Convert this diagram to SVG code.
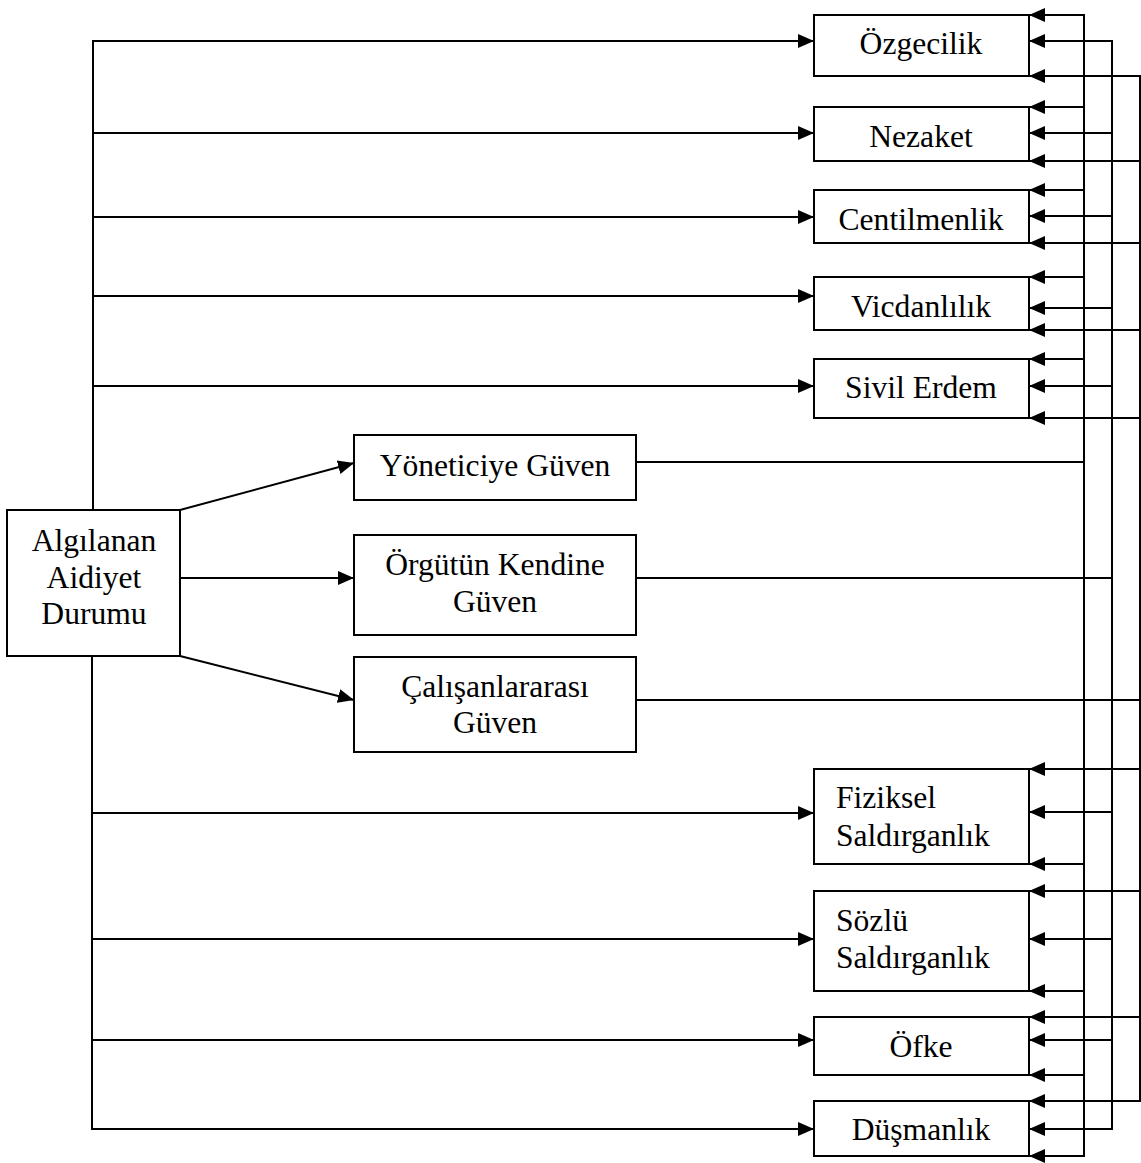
<svg xmlns="http://www.w3.org/2000/svg" width="1141" height="1163" viewBox="0 0 1141 1163">
<style>
.box{fill:#fff;stroke:#000;stroke-width:2}
text{font-family:'Liberation Serif','Times New Roman',Times,serif;font-size:31.6px;fill:#000}
.c{text-anchor:middle}
.ln{stroke:#000;stroke-width:2;fill:none}
.ar{stroke:#000;stroke-width:2;fill:none;marker-end:url(#ah)}
</style>
<defs>
<marker id="ah" markerUnits="userSpaceOnUse" markerWidth="17" markerHeight="16" refX="16" refY="8" orient="auto">
<path d="M0,1 L16,8 L0,15 z" fill="#000"/>
</marker>
</defs>
<rect width="1141" height="1163" fill="#fff"/>
<g id="connectors">
<path class="ln" d="M93,41 V510"/>
<path class="ln" d="M92,656 V1129"/>
<path class="ar" d="M92,41 H814"/>
<path class="ar" d="M92,133 H814"/>
<path class="ar" d="M92,217 H814"/>
<path class="ar" d="M92,296 H814"/>
<path class="ar" d="M92,386 H814"/>
<path class="ar" d="M92,813 H814"/>
<path class="ar" d="M92,939 H814"/>
<path class="ar" d="M92,1040 H814"/>
<path class="ar" d="M91,1129 H814"/>
<path class="ar" d="M180,510 L354,463"/>
<path class="ar" d="M180,578 H354"/>
<path class="ar" d="M180,656 L354,700"/>
<path class="ln" d="M636,462 H1084"/>
<path class="ln" d="M636,578 H1112"/>
<path class="ln" d="M636,700 H1141"/>
<path class="ln" d="M1084,14 V1157"/>
<path class="ln" d="M1112,40 V1130"/>
<path class="ln" d="M1140,75 V1102"/>
<path class="ar" d="M1085,15 H1029"/>
<path class="ar" d="M1113,41 H1029"/>
<path class="ar" d="M1141,76 H1029"/>
<path class="ar" d="M1084,107 H1029"/>
<path class="ar" d="M1112,133 H1029"/>
<path class="ar" d="M1140,161 H1029"/>
<path class="ar" d="M1084,190 H1029"/>
<path class="ar" d="M1112,216 H1029"/>
<path class="ar" d="M1140,243 H1029"/>
<path class="ar" d="M1084,277 H1029"/>
<path class="ar" d="M1112,308 H1029"/>
<path class="ar" d="M1140,330 H1029"/>
<path class="ar" d="M1084,359 H1029"/>
<path class="ar" d="M1112,386 H1029"/>
<path class="ar" d="M1140,418 H1029"/>
<path class="ar" d="M1140,769 H1029"/>
<path class="ar" d="M1112,812 H1029"/>
<path class="ar" d="M1084,864 H1029"/>
<path class="ar" d="M1140,891 H1029"/>
<path class="ar" d="M1112,939 H1029"/>
<path class="ar" d="M1084,991 H1029"/>
<path class="ar" d="M1140,1017 H1029"/>
<path class="ar" d="M1112,1040 H1029"/>
<path class="ar" d="M1084,1075 H1029"/>
<path class="ar" d="M1141,1101 H1029"/>
<path class="ar" d="M1113,1129 H1029"/>
<path class="ar" d="M1085,1156 H1029"/>
</g>
<g id="n-algilanan"><rect class="box" x="7" y="510" width="173" height="146"/>
<text class="c" x="94" y="551">Algılanan</text><text class="c" x="94" y="588">Aidiyet</text><text class="c" x="94" y="624">Durumu</text></g>
<g id="n-yonetici"><rect class="box" x="354" y="435" width="282" height="65"/><text class="c" x="495" y="476">Yöneticiye Güven</text></g>
<g id="n-orgut"><rect class="box" x="354" y="535" width="282" height="100"/><text class="c" x="495" y="575">Örgütün Kendine</text><text class="c" x="495" y="612">Güven</text></g>
<g id="n-calisan"><rect class="box" x="354" y="657" width="282" height="95"/><text class="c" x="495" y="697">Çalışanlararası</text><text class="c" x="495" y="733">Güven</text></g>
<g id="n-ozgecilik"><rect class="box" x="814" y="15" width="215" height="61"/><text class="c" x="921" y="54">Özgecilik</text></g>
<g id="n-nezaket"><rect class="box" x="814" y="107" width="215" height="54"/><text class="c" x="921" y="147">Nezaket</text></g>
<g id="n-centilmenlik"><rect class="box" x="814" y="190" width="215" height="53"/><text class="c" x="921" y="230">Centilmenlik</text></g>
<g id="n-vicdanlilik"><rect class="box" x="814" y="277" width="215" height="53"/><text class="c" x="921" y="317">Vicdanlılık</text></g>
<g id="n-sivil"><rect class="box" x="814" y="359" width="215" height="59"/><text class="c" x="921" y="398">Sivil Erdem</text></g>
<g id="n-fiziksel"><rect class="box" x="814" y="769" width="215" height="95"/><text x="836" y="808">Fiziksel</text><text x="836" y="846">Saldırganlık</text></g>
<g id="n-sozlu"><rect class="box" x="814" y="891" width="215" height="100"/><text x="836" y="931">Sözlü</text><text x="836" y="968">Saldırganlık</text></g>
<g id="n-ofke"><rect class="box" x="814" y="1017" width="215" height="58"/><text class="c" x="921" y="1057">Öfke</text></g>
<g id="n-dusmanlik"><rect class="box" x="814" y="1101" width="215" height="55"/><text class="c" x="921" y="1140">Düşmanlık</text></g>
</svg>
